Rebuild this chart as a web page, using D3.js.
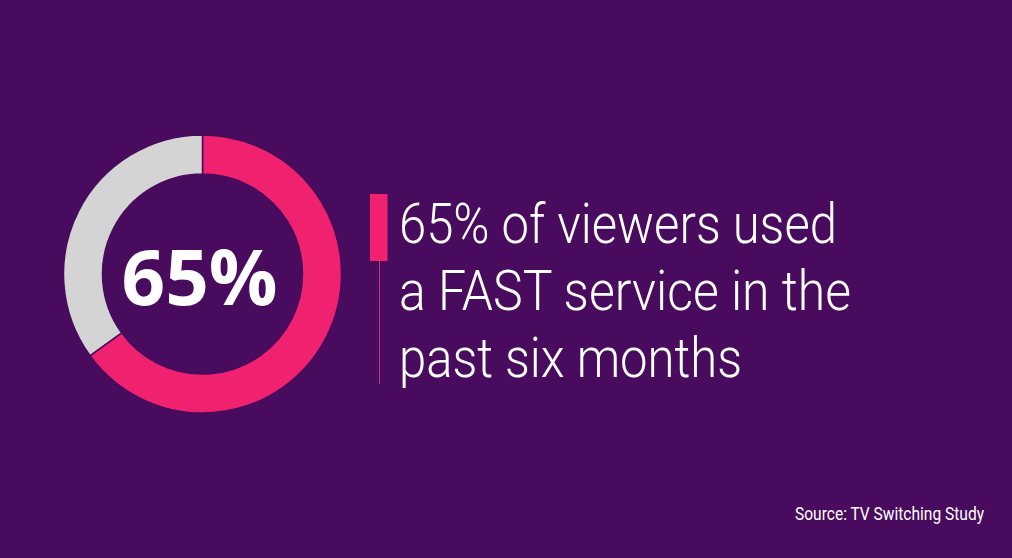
<!DOCTYPE html>
<html><head><meta charset="utf-8">
<script src="https://cdn.jsdelivr.net/npm/d3@7"></script>
<style>
html,body{margin:0;padding:0;background:#480b5e;overflow:hidden;}
svg{display:block;}
</style></head>
<body>
<svg id="chart" width="1012" height="558"></svg>
<script>
const categories = ["Used a FAST service", "Did not"];
const values = [65, 35];
const colors = ["#f0226f", "#d4d4d4"];
const headline = "65%";
const textLines = ["65% of viewers used", "a FAST service in the", "past six months"];
const source = "Source: TV Switching Study";

const W = 1012, H = 558;
const svg = d3.select("#chart");
svg.append("rect").attr("width", W).attr("height", H).attr("fill", "#480b5e");

const cx = 202.5, cy = 274, R = 139, r = 100;
const pie = d3.pie().sort(null).value(d => d)(values);
const arc = d3.arc().innerRadius(r).outerRadius(R);
const g = svg.append("g").attr("transform", `translate(${cx},${cy})`);
g.selectAll("path").data(pie).join("path")
  .attr("d", arc)
  .attr("fill", (d, i) => colors[i])
  .attr("stroke", "#480b5e")
  .attr("stroke-width", 1.5);

g.append("text").text(headline)
  .attr("x", -3).attr("y", 31)
  .attr("text-anchor", "middle")
  .attr("fill", "#ffffff")
  .attr("font-family", "'Open Sans', 'Noto Sans', sans-serif")
  .attr("font-weight", 700)
  .attr("font-size", 77)
  .attr("textLength", 156)
  .attr("lengthAdjust", "spacingAndGlyphs");

// accent bar + line
svg.append("rect").attr("x", 370).attr("y", 194).attr("width", 17.5).attr("height", 67).attr("fill", "#f0226f");
svg.append("line").attr("x1", 379.5).attr("x2", 379.5).attr("y1", 261).attr("y2", 384)
  .attr("stroke", "#c2367f").attr("stroke-width", 1);

const lineLens = [438, 452, 343];
const baselines = [243, 310, 377];
svg.selectAll("text.body").data(textLines).join("text")
  .attr("class", "body")
  .attr("x", 399)
  .attr("y", (d, i) => baselines[i])
  .attr("fill", "#ffffff")
  .attr("font-family", "Roboto, sans-serif")
  .attr("font-weight", 300)
  .attr("font-size", 56)
  .attr("textLength", (d, i) => lineLens[i])
  .attr("lengthAdjust", "spacingAndGlyphs")
  .text(d => d);

svg.append("text").text(source)
  .attr("transform", "translate(984,520) scale(1,1.2)")
  .attr("text-anchor", "end")
  .attr("fill", "#ffffff")
  .attr("font-family", "Roboto, sans-serif")
  .attr("font-size", 15)
  .attr("textLength", 189)
  .attr("lengthAdjust", "spacingAndGlyphs");
</script>
</body></html>
